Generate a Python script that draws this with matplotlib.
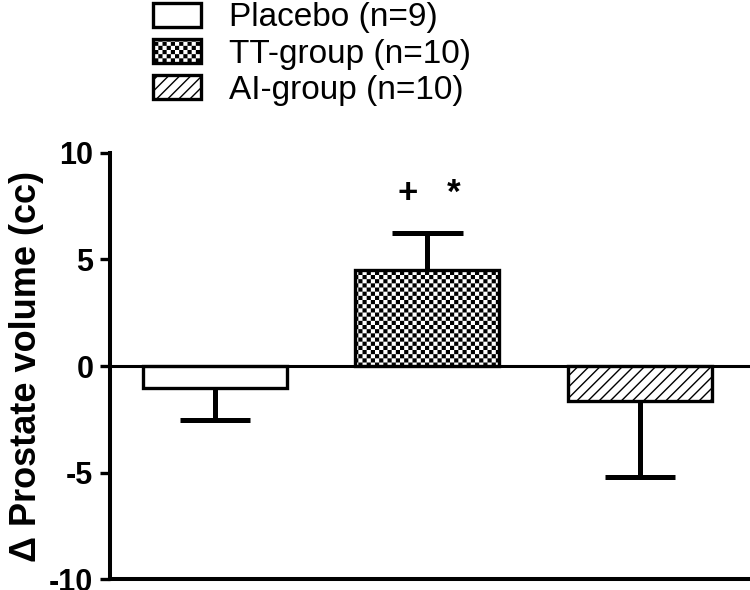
import warnings
import numpy as np
import matplotlib
matplotlib.use("Agg")
import matplotlib.pyplot as plt
import matplotlib.hatch as mhatch
from matplotlib.path import Path

warnings.filterwarnings("ignore")

groups = ["Placebo (n=9)", "TT-group (n=10)", "AI-group (n=10)"]
means = [-1.05, 4.5, -1.65]
sems = [1.5, 1.75, 3.55]
signif = "+   *"
signif_y = 8.1

plt.rcParams["font.family"] = ["Liberation Sans", "DejaVu Sans"]
plt.rcParams["axes.unicode_minus"] = False
plt.rcParams["hatch.linewidth"] = 1.0


class CheckerHatch(mhatch.HatchPatternBase):
    # filled checkerboard squares, 'c' in the hatch string
    def __init__(self, hatch, density):
        self.n = hatch.count("c") * 24
        self.num_vertices = (self.n * self.n // 2) * 5 if self.n else 0

    def set_vertices_and_codes(self, vertices, codes):
        n = self.n
        cell = 1.0 / n
        inset = (plt.rcParams["hatch.linewidth"] / 72.0 * 100) / 100 / 2
        k = 0
        for i in range(n):
            for j in range(n):
                if (i + j) % 2:
                    continue
                x0, y0 = i * cell + inset, j * cell + inset
                x1, y1 = (i + 1) * cell - inset, (j + 1) * cell - inset
                vertices[k:k + 5] = [(x0, y0), (x1, y0), (x1, y1), (x0, y1), (x0, y0)]
                codes[k:k + 5] = [Path.MOVETO, Path.LINETO, Path.LINETO, Path.LINETO, Path.CLOSEPOLY]
                k += 5


class DiagHatch(mhatch.NorthEastHatch):
    # finer '/' lines, 'd' in the hatch string (even count so it tiles)
    def __init__(self, hatch, density):
        self.num_lines = hatch.count("d") * 18
        self.num_vertices = (self.num_lines + 1) * 2 if self.num_lines else 0


mhatch._hatch_types.append(CheckerHatch)
mhatch._hatch_types.append(DiagHatch)

fig = plt.figure(figsize=(7.5, 5.9), dpi=100)
ax = fig.add_axes([0.1467, 0.0186, 0.8533, 0.7221])

x = np.arange(len(groups))
hatches = [None, "c", "d"]
bars = ax.bar(x, means, width=0.678, color="white", edgecolor="black",
              linewidth=2.4, zorder=2)
for b, h, g in zip(bars, hatches, groups):
    if h:
        b.set_hatch(h)
    b.set_label(g)

# one-sided error bars, away from zero
ends = [m - s if m < 0 else m + s for m, s in zip(means, sems)]
ax.vlines(x, means, ends, color="black", linewidth=3.6, zorder=1)
ax.hlines(ends, x - 0.165, x + 0.165, color="black", linewidth=3.6, zorder=1)

ax.axhline(0, color="black", linewidth=2.2, zorder=3)

ax.text(1.01, signif_y, signif, ha="center", va="center", fontsize=25,
        fontweight="bold")

ax.set_xlim(-0.494, 2.518)
ax.set_ylim(-10, 10)
ax.set_yticks([-10, -5, 0, 5, 10])
ax.set_xticks([])
for s in ["top", "right"]:
    ax.spines[s].set_visible(False)
ax.spines["left"].set_linewidth(2.9)
ax.spines["bottom"].set_linewidth(2.9)
ax.tick_params(axis="y", length=7, width=2.4, pad=5, labelsize=22)
for lab in ax.get_yticklabels():
    lab.set_fontweight("bold")
ax.set_ylabel("\u0394 Prostate volume (cc)", fontsize=26, fontweight="bold",
              labelpad=4)

ax.legend(handles=list(bars), loc="upper left", bbox_to_anchor=(0.204, 0.996),
          bbox_transform=fig.transFigure, frameon=False, fontsize=24,
          borderpad=0, borderaxespad=0, handlelength=1.45, handleheight=0.72,
          handletextpad=0.82, labelspacing=0.16)

fig.savefig("out.png", dpi=100)
